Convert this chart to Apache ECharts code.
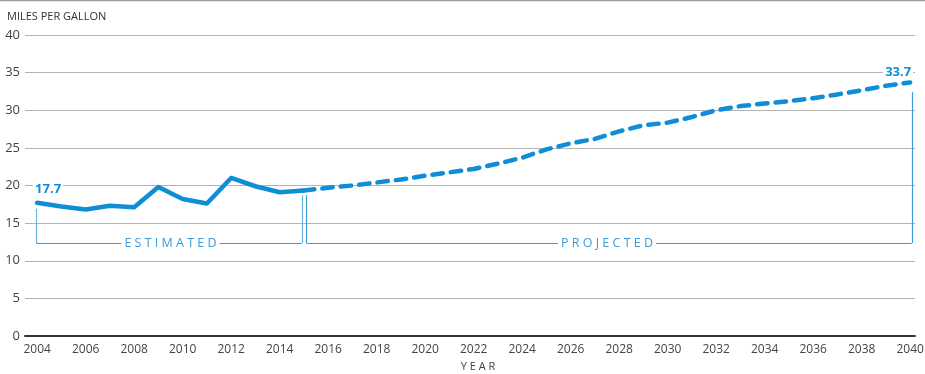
<!DOCTYPE html>
<html>
<head>
<meta charset="utf-8">
<script src="https://cdn.jsdelivr.net/npm/echarts@6/dist/echarts.min.js"></script>
<style>
  html, body { margin: 0; padding: 0; background: #fff; }
  #chart { width: 925px; height: 374px; }
</style>
</head>
<body>
<div id="chart"></div>
<script>
// estimated fuel economy, 2004-2015
const estYears = [2004, 2005, 2006, 2007, 2008, 2009, 2010, 2011, 2012, 2013, 2014, 2015];
const estValues = [17.7, 17.2, 16.8, 17.3, 17.1, 19.8, 18.2, 17.6, 21.0, 19.9, 19.1, 19.35];

// projected fuel economy, 2015-2040
const projYears = [2015, 2016, 2017, 2018, 2019, 2020, 2021, 2022, 2023, 2024, 2025, 2026, 2027,
  2028, 2029, 2030, 2031, 2032, 2033, 2034, 2035, 2036, 2037, 2038, 2039, 2040];
const projValues = [19.35, 19.7, 20.0, 20.4, 20.8, 21.3, 21.75, 22.2, 22.9, 23.7, 24.8, 25.6, 26.2,
  27.2, 28.0, 28.35, 29.1, 30.0, 30.55, 30.9, 31.2, 31.6, 32.1, 32.65, 33.25, 33.7];

const xTicks = [2004, 2006, 2008, 2010, 2012, 2014, 2016, 2018, 2020, 2022, 2024, 2026, 2028,
  2030, 2032, 2034, 2036, 2038, 2040];

const blue = "#0f8ed7";
const bracketBlue = "#3c9dda";
const font = "'Open Sans', 'Noto Sans', sans-serif";

function pairs(xs, ys) {
  return xs.map((x, i) => [x, ys[i]]);
}

// value label at the first / last point of a series
function valueLabel(x, y, offset) {
  return {
    coord: [x, y],
    value: y,
    symbol: "rect",
    symbolSize: 0,
    label: {
      show: true,
      position: "top",
      distance: 4,
      offset: offset,
      formatter: (p) => Number(p.value).toFixed(1),
      color: blue,
      fontWeight: "bold",
      fontSize: 13,
      fontFamily: font,
      backgroundColor: "#fff",
      padding: [0, 2],
    },
  };
}

const bracketY = 12.36;

function seg(a, b, color) {
  return [
    { coord: a, lineStyle: { color: color } },
    { coord: b },
  ];
}

function bracketText(text, x) {
  return {
    coord: [x, bracketY],
    symbol: "rect",
    symbolSize: 0,
    label: {
      show: true,
      position: "inside",
      formatter: text,
      color: "#3a9ddb",
      fontSize: 12.5,
      fontFamily: font,
      backgroundColor: "#fff",
      padding: [0, 3],
    },
  };
}

const lastP = projYears.length - 1;

const chart = echarts.init(document.getElementById("chart"));
chart.setOption({
  animation: false,
  textStyle: { fontFamily: font },
  title: {
    text: "MILES PER GALLON",
    left: 2,
    top: 6,
    textStyle: { fontSize: 11, fontWeight: "normal", color: "#333", fontFamily: font },
  },
  graphic: [
    {
      type: "line",
      shape: { x1: 0, y1: 0.5, x2: 925, y2: 0.5 },
      style: { stroke: "#9a9a9a", lineWidth: 1.5 },
    },
  ],
  grid: { left: 25, right: 10, top: 35, bottom: 38, outerBoundsMode: "none" },
  xAxis: {
    type: "value",
    min: 2003.5,
    max: 2040.2,
    name: "Y E A R",
    nameLocation: "middle",
    nameGap: 25,
    nameTextStyle: { color: "#444", fontSize: 11, padding: [0, 0, 0, 16] },
    axisLine: { show: true, lineStyle: { color: "#333", width: 2 } },
    axisTick: { show: false },
    splitLine: { show: false },
    axisLabel: {
      customValues: xTicks,
      formatter: (v) => String(v),
      color: "#444",
      fontSize: 12,
      margin: 8,
    },
  },
  yAxis: {
    type: "value",
    min: 0,
    max: 40,
    interval: 5,
    axisLine: { show: false },
    axisTick: { show: false },
    axisLabel: { color: "#444", fontSize: 13, margin: 5 },
    splitLine: { lineStyle: { color: "#b3b3b3", width: 1.2 } },
  },
  series: [
    {
      name: "Estimated",
      type: "line",
      data: pairs(estYears, estValues),
      symbol: "none",
      lineStyle: { color: blue, width: 4.5, cap: "round", join: "round" },
      z: 5,
      markLine: {
        silent: true,
        symbol: "none",
        label: { show: false },
        lineStyle: { type: "solid", width: 1.2 },
        data: [
          seg([2003.96, 16.9], [2003.96, bracketY], "#69b3e3"),
          seg([2003.96, bracketY], [2014.92, bracketY], bracketBlue),
          seg([2014.92, bracketY], [2014.92, 18.7], "#69b3e3"),
          seg([2015.1, 18.7], [2015.1, bracketY], bracketBlue),
          seg([2015.1, bracketY], [2040.07, bracketY], bracketBlue),
          seg([2040.07, bracketY], [2040.07, 32.4], bracketBlue),
        ],
      },
      markPoint: {
        silent: true,
        data: [
          bracketText("E S T I M A T E D", 2009.5),
          bracketText("P R O J E C T E D", 2027.5),
          valueLabel(estYears[0], estValues[0], [11, -3]),
          valueLabel(projYears[lastP], projValues[lastP], [-12, 0]),
        ],
      },
    },
    {
      name: "Projected",
      type: "line",
      data: pairs(projYears, projValues),
      symbol: "none",
      lineStyle: { color: blue, width: 4.5, type: [10.5, 8], cap: "round", join: "round" },
      z: 5,
    },
  ],
});
</script>
</body>
</html>
